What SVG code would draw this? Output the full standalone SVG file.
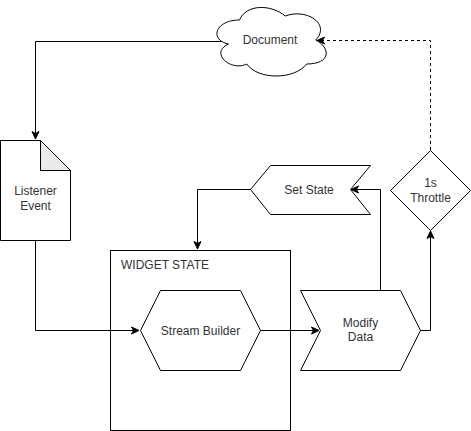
<svg xmlns="http://www.w3.org/2000/svg" width="471" height="431" viewBox="0 0 471 431">
<style>
.s{fill:#ffffff;stroke:#000000;stroke-width:1}
.e{fill:none;stroke:#000000;stroke-width:1}
.d{stroke-dasharray:3 3}
text{font-family:"Liberation Sans",Arial,sans-serif;font-size:12px;fill:#333333}
.c{text-anchor:middle}
</style>
<defs>
<marker id="arr" markerUnits="userSpaceOnUse" markerWidth="10" markerHeight="10" viewBox="0 0 10 10" refX="8" refY="5" orient="auto">
<path d="M0.5,1.5 L8,5 L0.5,8.5 L2.5,5 Z" fill="#000000" stroke="#000000" stroke-width="1"/>
</marker>
</defs>
<rect width="471" height="431" fill="#ffffff"/>
<g id="widget-state">
<rect class="s" x="110.5" y="250.5" width="180" height="180"/>
<text x="121" y="269">WIDGET STATE</text>
</g>
<g id="connectors">
<path class="e" d="M228,41.5 H35.5 V139" marker-end="url(#arr)"/>
<path class="e" d="M35.5,240 V330.5 H139" marker-end="url(#arr)"/>
<path class="e" d="M260,330.5 H319" marker-end="url(#arr)"/>
<path class="e" d="M380.5,290 V189.5 H351" marker-end="url(#arr)"/>
<path class="e" d="M251,189.5 H197.5 V249" marker-end="url(#arr)"/>
<path class="e" d="M420,330.5 H430.5 V231" marker-end="url(#arr)"/>
<path class="e d" d="M430.5,150 V40.5 H317" marker-end="url(#arr)"/>
</g>
<g id="document">
<path class="s" d="M239.5,20 C215.1,20 209,40 228.5,44 C209,52.8 231,72 246.8,64 C257.8,80 294.4,80 306.6,64 C331,64 331,48 315.75,40 C331,24 306.6,8 285.25,16 C270.6,4 246.2,4 239.5,20 Z"/>
<text class="c" x="270" y="44">Document</text>
</g>
<g id="listener-event">
<path class="s" d="M0.5,140.5 H40.5 L70.5,170.5 V240.5 H0.5 Z"/>
<path d="M40.5,140.5 V170.5 H70.5 Z" fill="#ebebeb" stroke="#000000" stroke-width="1"/>
<text class="c" x="35.5" y="195">Listener</text>
<text class="c" x="35.5" y="210">Event</text>
</g>
<g id="set-state">
<path class="s" d="M250.5,189.5 L270.5,165.5 H370.5 L350.5,189.5 L370.5,214.5 H270.5 Z"/>
<text class="c" x="309" y="194">Set State</text>
</g>
<g id="throttle">
<path class="s" d="M430.5,150.5 L470.5,190.5 L430.5,230.5 L390.5,190.5 Z"/>
<text class="c" x="430.5" y="187">1s</text>
<text class="c" x="430.5" y="202">Throttle</text>
</g>
<g id="stream-builder">
<path class="s" d="M140.5,330.5 L160.5,290.5 H240.5 L260.5,330.5 L240.5,370.5 H160.5 Z"/>
<text class="c" x="200.5" y="334.5">Stream Builder</text>
</g>
<g id="modify-data">
<path class="s" d="M300.5,290.5 H400.5 L420.5,330.5 L400.5,370.5 H300.5 L320.5,330.5 Z"/>
<text class="c" x="360.5" y="327">Modify</text>
<text class="c" x="360.5" y="341">Data</text>
</g>
</svg>
